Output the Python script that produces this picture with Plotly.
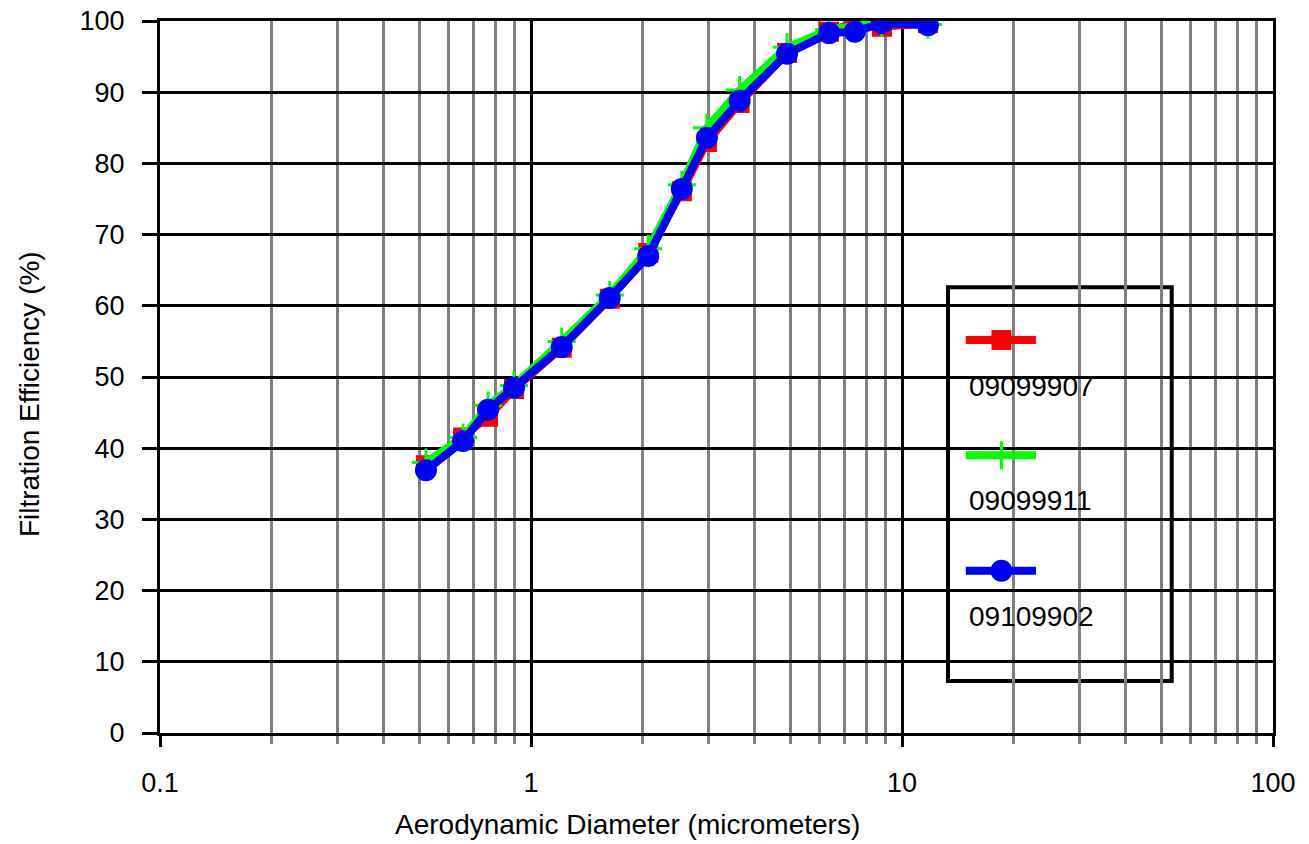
import plotly.graph_objects as go

diam = [0.521, 0.656, 0.766, 0.90, 1.21, 1.63, 2.07, 2.55, 2.98, 3.65, 4.90, 6.36, 7.46, 8.83, 11.75]
eff_09099907 = [37.6, 41.5, 44.4, 48.3, 54.1, 61.0, 67.4, 76.1, 83.0, 88.5, 95.5, 98.5, 99.8, 99.2, 99.7]
eff_09099911 = [38.0, 41.5, 46.0, 48.8, 55.0, 61.5, 68.0, 77.0, 85.0, 90.3, 96.3, 98.8, 99.3, 99.8, 99.5]
eff_09109902 = [36.9, 41.0, 45.4, 48.5, 54.2, 61.1, 67.0, 76.4, 83.6, 88.8, 95.4, 98.3, 98.5, 99.7, 99.4]

series_names = ["09099907", "09099911", "09109902"]
series_colors = ["#ff0000", "#00ff00", "#0000ff"]
series_symbols = ["square", "cross-thin", "circle"]
series_sizes = [17, 20, 19]

x_title = "Aerodynamic Diameter (micrometers)"
y_title = "Filtration Efficiency (%)"

font = "Liberation Sans, Arial, sans-serif"
fsize = 27
tsize = 28
fig = go.Figure()

for name, vals, col, sym, sz in zip(series_names, [eff_09099907, eff_09099911, eff_09109902],
                                    series_colors, series_symbols, series_sizes):
    fig.add_trace(go.Scatter(
        x=diam, y=vals, name=name, mode="lines+markers",
        line=dict(color=col, width=8),
        marker=dict(symbol=sym, size=sz, color=col, opacity=1, line=dict(color=col, width=3)),
        showlegend=False,
    ))

# manual legend (box, samples, labels)
lx0, lx1 = 0.708, 0.909
ly0, ly1 = 0.073, 0.626
fig.add_shape(type="rect", xref="paper", yref="paper", x0=lx0, x1=lx1, y0=ly0, y1=ly1,
              line=dict(color="black", width=4), fillcolor="white", layer="between")
sample_y = [0.552, 0.390, 0.228]
text_y = [0.487, 0.326, 0.163]
for i, (name, col, sym, sz) in enumerate(zip(series_names, series_colors, series_symbols, series_sizes)):
    fig.add_trace(go.Scatter(
        x=[0.724, 0.756, 0.787], y=[sample_y[i]] * 3, mode="lines+markers",
        xaxis="x2", yaxis="y2", showlegend=False, hoverinfo="skip",
        line=dict(color=col, width=8),
        marker=dict(symbol=sym, size=[0, sz, 0], color=col, opacity=1, line=dict(color=col, width=3)),
    ))
    fig.add_annotation(x=0.725, y=text_y[i], xref="paper", yref="paper", text=name,
                       showarrow=False, xanchor="left", yanchor="middle",
                       font=dict(family=font, size=fsize + 1, color="black"))

# axis titles
fig.add_annotation(x=0.42, y=-0.129, xref="paper", yref="paper", text=x_title,
                   showarrow=False, xanchor="center", yanchor="middle",
                   font=dict(family=font, size=tsize, color="black"))
fig.add_annotation(x=-0.1177, y=0.476, xref="paper", yref="paper", text=y_title,
                   showarrow=False, xanchor="center", yanchor="middle", textangle=-90,
                   font=dict(family=font, size=tsize, color="black"))

fig.update_layout(
    width=1309, height=844,
    margin=dict(l=152, r=44, t=13, b=119),
    paper_bgcolor="white", plot_bgcolor="white",
    font=dict(family=font, size=fsize, color="black"),
    xaxis=dict(
        type="log", range=[-1, 2], automargin=False, ticklabeloverflow="allow",
        tickvals=[0.1, 1, 10, 100], ticktext=["0.1", "1", "10", "100"],
        showgrid=True, gridcolor="black", gridwidth=3,
        minor=dict(dtick="D1", showgrid=True, gridcolor="#808080", gridwidth=3,
                   ticks="outside", ticklen=8, tickwidth=3, tickcolor="#808080"),
        showline=True, linecolor="black", linewidth=3, mirror=True,
        ticks="outside", ticklen=11, tickwidth=3, tickcolor="black", zeroline=False,
        ticklabelstandoff=13,
        tickfont=dict(size=fsize),
    ),
    yaxis=dict(
        range=[0, 100], dtick=10, automargin=False, ticklabeloverflow="allow",
        showgrid=True, gridcolor="black", gridwidth=3,
        showline=True, linecolor="black", linewidth=3, mirror=True,
        ticks="outside", ticklen=15, tickwidth=3, tickcolor="black", zeroline=False,
        ticklabelstandoff=12,
        tickfont=dict(size=fsize),
    ),
    xaxis2=dict(domain=[0, 1], range=[0, 1], overlaying="x", visible=False, fixedrange=True),
    yaxis2=dict(domain=[0, 1], range=[0, 1], overlaying="y", visible=False, fixedrange=True),
)

fig.write_html("out.html")
